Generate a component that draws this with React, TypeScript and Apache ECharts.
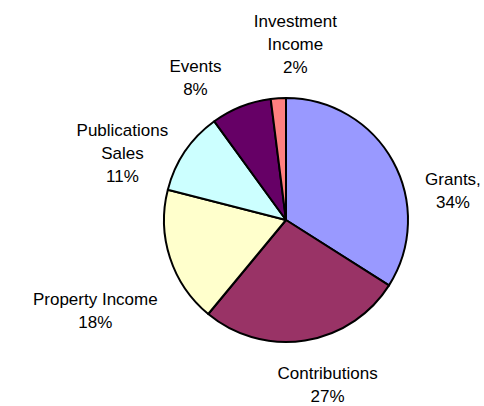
import React, { useEffect, useRef } from "react";
import * as echarts from "echarts";

const categories = ["Grants", "Contributions", "Property Income", "Publications Sales", "Events", "Investment Income"];
const values = [34, 27, 18, 11, 8, 2];
const labelNames = ["Grants,", "Contributions", "Property Income", "Publications\nSales", "Events", "Investment\nIncome"];
const colors = ["#9999FF", "#993366", "#FFFFCC", "#CCFFFF", "#660066", "#FF8080"];
// label nudges (px) from a point 170px out along each slice's mid-angle
const labelNudges = [[18, 53], [15, -3], [-29, 38], [-23, 29], [-28, 16], [20, -6]];

const CX = 286;
const CY = 220;
const R = 122;
const LABEL_R = 170;

export default function App() {
  const ref = useRef<HTMLDivElement>(null);
  useEffect(() => {
    if (!ref.current) return;
    const chart = echarts.init(ref.current, null, { renderer: "svg" });
    const total = values.reduce((a, b) => a + b, 0);
    const mids: number[] = [];
    let acc = 0;
    values.forEach((v) => {
      mids.push(((acc + v / 2) / total) * Math.PI * 2);
      acc += v;
    });
    chart.setOption({
      animation: false,
      backgroundColor: "#ffffff",
      series: [
        {
          type: "pie",
          center: [CX, CY],
          radius: [0, R],
          startAngle: 90,
          clockwise: true,
          avoidLabelOverlap: false,
          data: categories.map((c, i) => ({
            name: c,
            value: values[i],
            itemStyle: { color: colors[i] },
          })),
          itemStyle: { borderColor: "#000000", borderWidth: 2 },
          label: {
            show: true,
            position: "outside",
            formatter: (p: any) => `${labelNames[p.dataIndex]}\n${p.value}%`,
            fontFamily: "'Liberation Sans', Arial, sans-serif",
            fontSize: 17,
            lineHeight: 23,
            color: "#000000",
            align: "center",
          },
          labelLine: { show: false },
          labelLayout: (p: any) => {
            const i = p.dataIndex;
            const a = mids[i];
            return {
              x: CX + LABEL_R * Math.sin(a) + labelNudges[i][0],
              y: CY - LABEL_R * Math.cos(a) + labelNudges[i][1],
              align: "center",
              verticalAlign: "middle",
            };
          },
          emphasis: { disabled: true },
        },
      ],
    });
    return () => chart.dispose();
  }, []);
  return (
    <div
      ref={ref}
      style={{ position: "fixed", left: 0, top: 0, width: 484, height: 406 }}
    />
  );
}
